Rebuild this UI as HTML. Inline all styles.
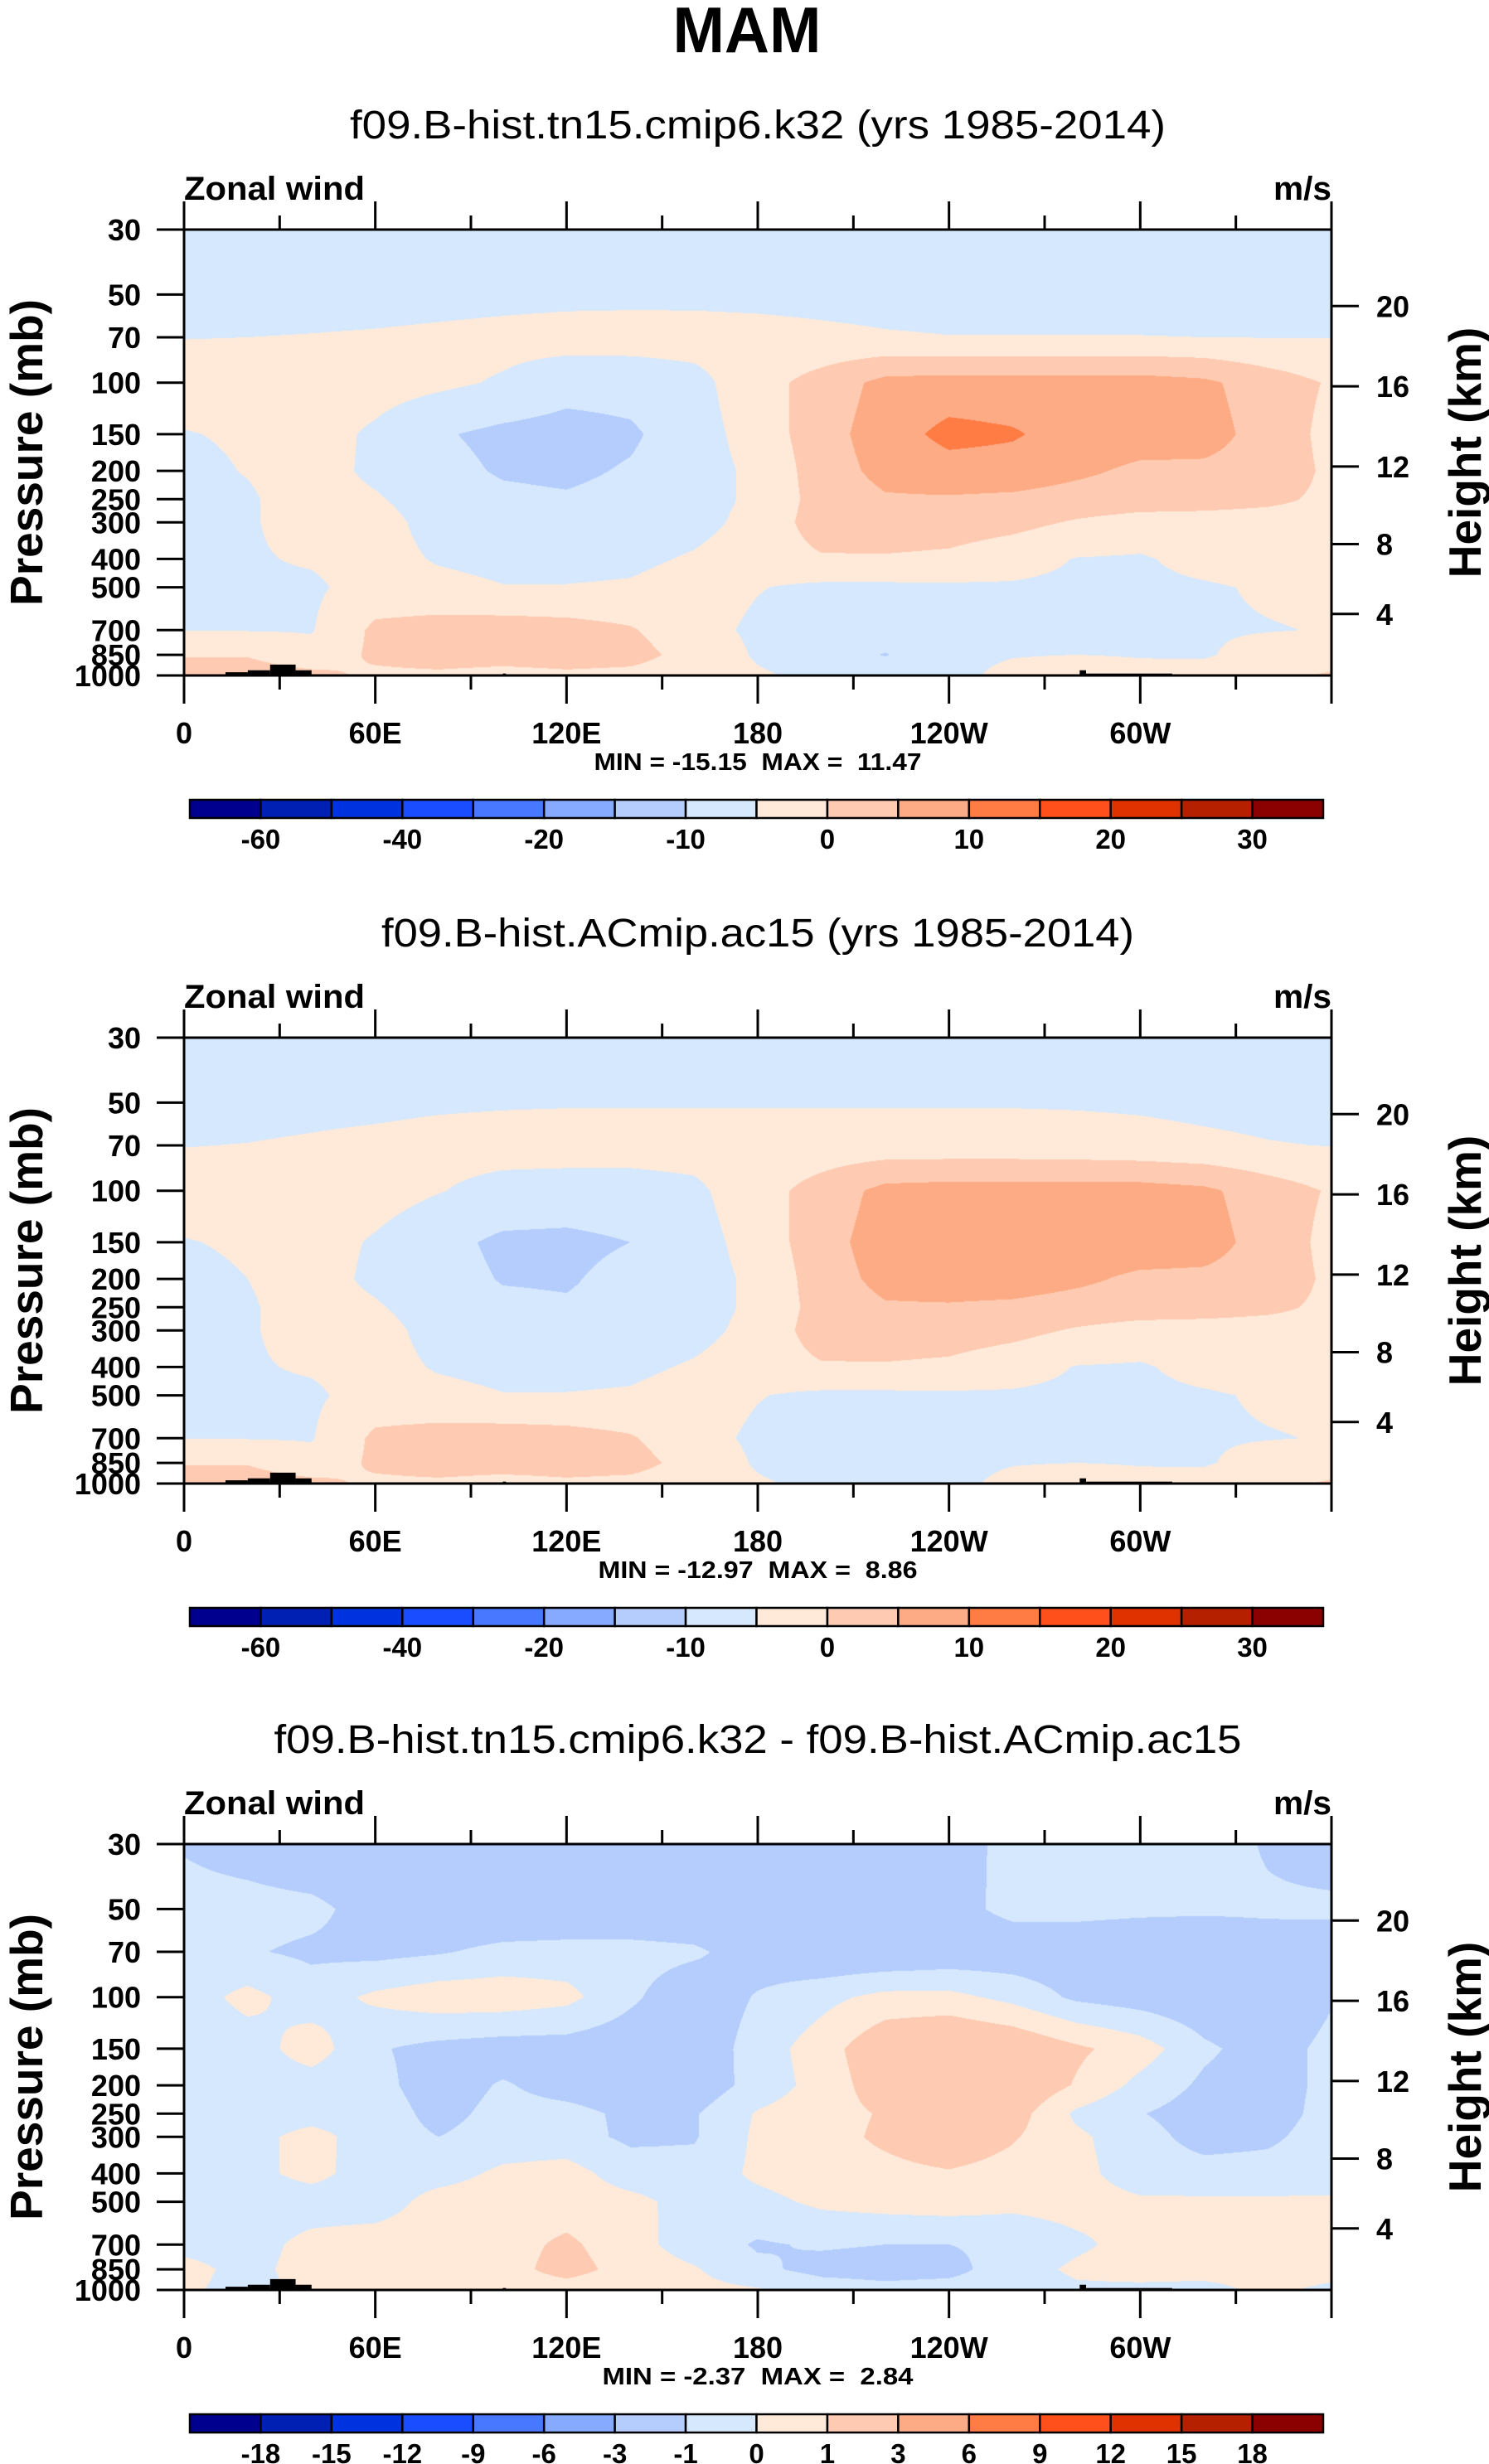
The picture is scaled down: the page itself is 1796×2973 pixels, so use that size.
<!DOCTYPE html>
<html><head><meta charset="utf-8"><style>
html,body{margin:0;padding:0;background:#fff;width:1796px;height:2973px;overflow:hidden}
#root{position:relative;width:1796px;height:2973px}
canvas{position:absolute}
svg{position:absolute;left:0;top:0}
text{font-family:"Liberation Sans",Arial,sans-serif;white-space:pre}
</style></head><body>
<div id="root">
<canvas id="c1" width="1384" height="538" style="left:222px;top:277px"></canvas>
<canvas id="c2" width="1384" height="538" style="left:222px;top:1252px"></canvas>
<canvas id="c3" width="1384" height="538" style="left:222px;top:2225px"></canvas>
<svg id="ov" width="1796" height="2973">
<text x="901" y="63" font-size="78" font-weight="bold" text-anchor="middle" textLength="179" lengthAdjust="spacingAndGlyphs">MAM</text>
</svg>
</div>
<script>
// ---------- data ----------
const lons = [0,20,40,60,80,100,120,140,160,180,200,220,240,260,280,300,320,340,360];
const plevs = [30,50,70,100,150,200,250,300,400,500,700,850,1000];
const pTickLabels = ['30','50','70','100','150','200','250','300','400','500','700','850','1000'];
const lonTickValues = [0,60,120,180,240,300];
const lonTickLabels = ['0','60E','120E','180','120W','60W'];
const heightTicksKm = [4,8,12,16,20];
const levels12 = [-60,-50,-40,-30,-20,-15,-10,-5,0,5,10,15,20,25,30];
const levels3 = [-18,-15,-12,-9,-6,-3,-1,0,1,3,6,9,12,15,18];
const cbLabels12 = ['-60','-40','-20','-10','0','10','20','30'];
const cbLabels3 = ['-18','-15','-12','-9','-6','-3','-1','0','1','3','6','9','12','15','18'];
const colors = ['#00008f','#0020b4','#0033e0','#1a4dff','#4778ff','#86aaff','#b4cdfc','#d6e8fd','#ffeada','#fecbb2','#fdab85','#ff7c45','#ff4f1b','#e03100','#b42000','#8b0000'];
const subtitles = ['f09.B-hist.tn15.cmip6.k32 (yrs 1985-2014)','f09.B-hist.ACmip.ac15 (yrs 1985-2014)','f09.B-hist.tn15.cmip6.k32 - f09.B-hist.ACmip.ac15'];
const minMaxText = ['MIN = -15.15  MAX =  11.47','MIN = -12.97  MAX =  8.86','MIN = -2.37  MAX =  2.84'];
const topoSegments = [[13,20,975],[20,27,960],[27,35,918],[35,40,960],[100,101,985],[281,283,960],[283,310,985]];

const panel1Values = [
[-7.5,-7.5,-7.5,-7.5,-7.5,-7.5,-7.5,-7.5,-7.5,-7.5,-7.5,-7.5,-7.5,-7.5,-7.5,-7.5,-7.5,-7.5,-7.5],
[-7,-7,-7,-7,-6.8,-6.5,-6.3,-6.2,-6.2,-6.3,-6.5,-6.7,-6.8,-6.8,-6.8,-6.9,-7,-7,-7],
[-5.1,-5,-4.8,-4.5,-4,-3.5,-3,-2.9,-3,-3.4,-4,-4.6,-4.9,-4.9,-4.9,-4.9,-5,-5.1,-5.1],
[-3,-3,-2.5,-3,-4,-5.5,-8,-8,-6.5,-2,2,6.5,7,7,7,7,6,2.5,-0.5],
[-5.2,-4.5,-3,-5.8,-9.5,-11.2,-12,-10.8,-7,-3,3,7.5,11.5,10.5,8,7.5,7,3,-1.5],
[-6,-4.8,-3,-6,-8.5,-10.5,-11,-9.5,-7,-4,2.5,6.5,8,8,6,4,4,3,-1],
[-6,-5.5,-3,-4.5,-7.5,-9,-9.5,-8.5,-7,-4,2,4.5,4.5,4,3,2.5,2,1,-1],
[-6,-5.5,-3,-3,-7,-8.5,-8.5,-8,-6.5,-3.5,2.5,3,2.5,1.5,-0.5,-2,-2,-2,-1.5],
[-6,-5.5,-4.5,-3,-5.5,-6.5,-6.5,-6,-4.5,-2.5,-0.5,-0.5,-1,-3,-5.2,-5.5,-3.5,-2.5,-3],
[-6,-5.8,-5.8,-3,-3.5,-4.8,-4.8,-4.5,-3,-4.8,-6,-6,-5.8,-5.6,-6,-6,-5.5,-4.5,-4],
[-5.2,-5.2,-5.3,1,2,2.5,2,0.5,-3.5,-5.8,-6.3,-6.5,-6,-6,-6,-6,-5.5,-5.2,-4.8],
[-0.3,-0.3,-3.5,1,2.5,2.5,2.5,2,-2,-5.5,-7,-10.3,-6,-5.2,-5,-5.2,-5.5,-3,-2],
[2,2.5,1.5,-1,-1,-2,-1,-1.5,-3,-4.5,-6,-6.5,-6,-4,-3,-4,-3,-1,0.5]
];
const panel2Values = [
[-7.5,-7.5,-7.5,-7.5,-7.5,-7.5,-7.5,-7.5,-7.5,-7.5,-7.5,-7.5,-7.5,-7.5,-7.5,-7.5,-7.5,-7.5,-7.5],
[-6.5,-6.5,-6.2,-6,-5.6,-5.4,-5.3,-5.3,-5.3,-5.3,-5.3,-5.3,-5.3,-5.3,-5.4,-5.6,-6,-6.3,-6.5],
[-5.1,-4.9,-4.5,-4,-3.5,-3.2,-3,-3,-3,-3,-3,-3,-3,-3,-3.2,-3.6,-4.2,-4.8,-5.1],
[-3,-3,-2.5,-3,-4.8,-6.5,-7,-7,-6,-2,2,6.5,7,7,7,7,6,2.5,-0.5],
[-5.2,-4.5,-3,-5.5,-8.5,-11,-11.2,-10,-7,-3,3,7.5,8.5,8.5,8,8,7,3,-1.5],
[-6,-5,-3,-6,-8,-10.3,-10.5,-8.5,-7,-4,2.5,6.5,7.5,7.5,6,4,4,3,-1],
[-6,-5.5,-3,-4.5,-7.5,-9,-9.5,-8.5,-7,-4,2,4.5,4.5,4,3,2.5,2,1,-1],
[-6,-5.5,-3,-3,-7,-8.5,-8.5,-8,-6.5,-3.5,2.5,3,2.5,1.5,-0.5,-2,-2,-2,-1.5],
[-6,-5.5,-4.5,-3,-5.5,-6.5,-6.5,-6,-4.5,-2.5,-0.5,-0.5,-1,-3,-5.2,-5.5,-3.5,-2.5,-3],
[-6,-5.8,-5.8,-3,-3.5,-4.8,-4.8,-4.5,-3,-4.8,-6,-6,-5.8,-5.6,-6,-6,-5.5,-4.5,-4],
[-5.2,-5.2,-5.3,1,2,2.5,2,0.5,-3.5,-5.8,-6.3,-6.5,-6,-6,-6,-6,-5.5,-5.2,-4.8],
[-0.3,-0.3,-3.5,1,2.5,2.5,2.5,2,-2,-5.5,-7,-7.5,-6,-5.2,-5,-5.2,-5.5,-3,-2],
[2,2.5,1.5,-1,-1,-2,-1,-1.5,-3,-4.5,-6,-6.5,-6,-4,-3,-4,-3,-1,0.5]
];
const panel3Values = [
[-1.1,-1.5,-2,-2,-2,-2,-2,-2,-2,-2,-2,-2,-1.6,-0.6,-0.5,-0.5,-0.5,-1.1,-1.5],
[-0.6,-0.6,-0.7,-1.5,-2,-2,-2,-2,-2,-2,-2,-2,-1.4,-0.7,-0.7,-0.8,-0.85,-0.85,-0.8],
[-0.6,-0.9,-1.2,-1.3,-1.1,-0.7,-0.6,-0.6,-0.8,-1.6,-2,-2,-1.8,-1.7,-1.7,-1.8,-1.8,-1.5,-1.6],
[-0.5,0.3,-0.5,0.2,0.6,0.6,0.3,-0.8,-1.8,-0.9,-0.3,0.3,0.3,-0.3,-1.2,-1.5,-1.8,-2,-1.1],
[-0.6,-0.5,0.5,-0.9,-1.3,-1.5,-1.5,-1.7,-1.8,-0.5,0.5,1.9,2.3,2,1.2,0.5,-0.8,-1.5,-0.7],
[-0.6,-0.5,-0.5,-0.7,-1.5,-0.9,-1.4,-1.6,-1.7,-0.6,0.4,1.6,2.2,2,0.9,-0.3,-1.2,-1.5,-0.7],
[-0.5,-0.5,-0.5,-0.5,-1.3,-0.7,-0.7,-1.2,-1.1,0.1,0.6,1.1,2.2,1.5,-0.2,-0.95,-1.5,-1.5,-0.6],
[-0.5,-0.4,0.4,-0.6,-1,-0.6,-0.6,-1.2,-1.1,0.2,0.6,1.2,1.8,1.1,0.2,-0.6,-1.4,-1.2,-0.5],
[-0.5,-0.3,0.3,-0.5,-0.4,0.2,0.4,-0.5,-0.6,0.2,0.6,0.7,0.9,0.6,0.3,-0.5,-0.6,-0.6,-0.5],
[-0.4,-0.5,-0.5,-0.5,0.4,0.5,0.5,0.3,-0.4,-0.3,0.2,0.4,0.5,0.3,0.4,0.15,0.15,0.15,0.15],
[-0.3,-0.4,0.3,0.5,0.5,0.6,1.2,0.4,-0.5,-1.1,-0.9,-1,-1,-0.8,-0.2,0.4,0.5,0.5,0.4],
[0.3,-0.3,0.4,0.5,0.6,0.6,1.4,0.6,0.1,-0.8,-1.3,-1.4,-1.3,-0.5,0.2,0.5,0.5,0.5,0.5],
[0.2,-0.4,0.3,0.4,0.5,0.5,0.5,0.4,0.3,0.1,-0.5,-0.7,-0.6,-0.5,-0.2,-0.3,-0.4,0.3,-0.3]
];

// ---------- layout ----------
const PX = 222, PW = 1384, PH = 538;
const panelTops = [277, 1252, 2225];
const LN0 = Math.log(30), LNR = Math.log(1000/30);
function xOf(lon){ return PX + lon/360*PW; }
function yOfP(top, p){ return top + (Math.log(p)-LN0)/LNR*PH; }
function kmToP(z){ return z<=11 ? 1013.25*Math.pow(1-0.0065*z*1000/288.15,5.2559) : 226.32*Math.exp(-(z-11)*1000/6341.6); }
function hexRgb(h){ return [parseInt(h.slice(1,3),16),parseInt(h.slice(3,5),16),parseInt(h.slice(5,7),16)]; }
const rgb = colors.map(hexRgb);

function fillPanel(id, grid, levels){
  const cv = document.getElementById(id), ctx = cv.getContext('2d');
  const img = ctx.createImageData(PW, PH), d = img.data;
  const lnp = plevs.map(Math.log);
  for (let j=0;j<PH;j++){
    const lp = LN0 + (j+0.5)/PH*LNR;
    let k=0; while(k<plevs.length-2 && lp>lnp[k+1]) k++;
    const fy = Math.min(1,Math.max(0,(lp-lnp[k])/(lnp[k+1]-lnp[k])));
    for (let i=0;i<PW;i++){
      const lon=(i+0.5)/PW*360;
      let m=Math.min(lons.length-2,Math.floor(lon/20));
      const fx=(lon-lons[m])/20;
      const v=(grid[k][m]*(1-fx)+grid[k][m+1]*fx)*(1-fy)+(grid[k+1][m]*(1-fx)+grid[k+1][m+1]*fx)*fy;
      let c=0; while(c<levels.length && v>=levels[c]) c++;
      const o=(j*PW+i)*4; d[o]=rgb[c][0]; d[o+1]=rgb[c][1]; d[o+2]=rgb[c][2]; d[o+3]=255;
    }
  }
  ctx.putImageData(img,0,0);
}
fillPanel('c1', panel1Values, levels12);
fillPanel('c2', panel2Values, levels12);
fillPanel('c3', panel3Values, levels3);

const NS='http://www.w3.org/2000/svg', ov=document.getElementById('ov');
function mk(tag, attrs){ const e=document.createElementNS(NS,tag); for(const k in attrs) e.setAttribute(k,attrs[k]); ov.appendChild(e); return e; }
function line(x1,y1,x2,y2,w,name){
  const e=mk('line',{x1:x1,y1:y1,x2:x2,y2:y2,stroke:'#000','stroke-width':w});
  
  
}
function txt(s,x,y,size,anchor,name,extra){
  const e=mk('text',Object.assign({x:x,y:y,'font-size':size,'font-weight':'bold','text-anchor':anchor},extra||{}));
  e.textContent=s;
  
  
  return e;
}

panelTops.forEach((T,pi)=>{
  const B=T+PH;
  const st=txt(subtitles[pi],914,T-110,48,'middle','panel-subtitle',{textLength:[984,908,1167][pi],lengthAdjust:'spacingAndGlyphs'});
  st.setAttribute('font-weight','normal');
  txt('Zonal wind',PX,T-36,40,'start','variable-label',{textLength:218,lengthAdjust:'spacingAndGlyphs'});
  txt('m/s',PX+PW,T-36,40,'end','units-label',{textLength:70,lengthAdjust:'spacingAndGlyphs'});
  topoSegments.forEach(s=>{
    const r=mk('rect',{x:xOf(s[0]),y:yOfP(T,s[2]),width:xOf(s[1])-xOf(s[0]),height:B-yOfP(T,s[2]),fill:'#000'});
    
    
  });
  const fr=mk('rect',{x:PX,y:T,width:PW,height:PH,fill:'none',stroke:'#000','stroke-width':3});
  
  
  for(let lon=0;lon<=360;lon+=30){
    const major=lon%60===0, L=major?34:17, x=xOf(lon);
    line(x,T,x,T-L,3,'top-tick');
    line(x,B,x,B+L,3,'bottom-tick');
  }
  lonTickValues.forEach((lon,i)=>{ txt(lonTickLabels[i],xOf(lon),B+82,36,'middle','x-tick-label'); });
  plevs.forEach((p,i)=>{
    const y=yOfP(T,p);
    line(PX,y,PX-33,y,3,'y-tick');
    txt(pTickLabels[i],170,y+13,36,'end','y-tick-label');
  });
  heightTicksKm.forEach(z=>{
    const y=yOfP(T,kmToP(z));
    line(PX+PW,y,PX+PW+33,y,3,'right-tick');
    txt(String(z),1660,y+13,36,'start','right-tick-label');
  });
  txt('Pressure (mb)',51,T+PH/2,55,'middle','y-axis-title',{transform:'rotate(-90 51 '+(T+PH/2)+')'});
  txt('Height (km)',1786,T+PH/2,55,'middle','right-axis-title',{transform:'rotate(-90 1786 '+(T+PH/2)+')'});
  txt(minMaxText[pi],914,T+652,29,'middle','min-max-label',{textLength:[395,385,375][pi],lengthAdjust:'spacingAndGlyphs'});
  const cy=T+688, cx0=229, cw=(1596-229)/16;
  colors.forEach((c,i)=>{
    const r=mk('rect',{x:cx0+i*cw,y:cy,width:cw,height:22,fill:c,stroke:'#000','stroke-width':2.5});
    
    
  });
  if(pi<2){
    cbLabels12.forEach((s,i)=>{ txt(s,cx0+(2*i+1)*cw,cy+59,33,'middle','colorbar-label'); });
  } else {
    cbLabels3.forEach((s,i)=>{ txt(s,cx0+(i+1)*cw,cy+59,33,'middle','colorbar-label'); });
  }
});
</script>
</body></html>
